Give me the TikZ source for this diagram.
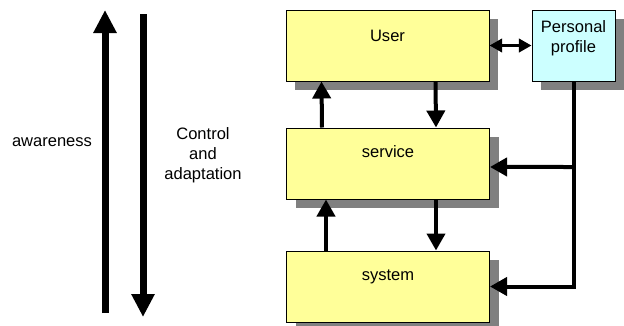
\documentclass[tikz,border=0pt]{standalone}
\usepackage{fontspec}
\setmainfont{Liberation Sans}
\usetikzlibrary{arrows.meta,shadows}
\definecolor{layeryellow}{HTML}{FFFF99}
\definecolor{profilecyan}{HTML}{CCFFFF}

\begin{document}
\begin{tikzpicture}[x=0.75pt,y=-0.75pt,
  font=\fontsize{12.4}{15}\selectfont,
  layer/.style={draw, line width=0.75pt, fill=layeryellow, inner sep=0pt,
    minimum width=152.25pt, text height=22pt, text depth=31.25pt,
    drop shadow={shadow xshift=6.75pt, shadow yshift=-7pt, fill=black!50, opacity=1}},
  flow/.style={line width=3pt, -{Triangle[length=12.75pt,width=13.5pt]}},
  link/.style={line width=2.25pt, {Triangle[length=9.5pt,width=10pt]}-{Triangle[length=9.5pt,width=10pt]}},
  bigflow/.style={line width=5.25pt, -{Triangle[length=17.25pt,width=16.5pt]}}]
\useasboundingbox (0,0) rectangle (624,325);
\node[layer, text height=23.5pt, text depth=29.75pt] (user) at (387.5,45.5) {User};
\node[layer] (service) at (388,163.5) {service};
\node[layer] (system) at (388,286.5) {system};
\node[layer, fill=profilecyan, minimum width=62.25pt, align=center,
  text height=31.5pt, text depth=21.75pt] (profile) at (573.5,45.5) {Personal\\profile};
\draw[flow] ([xshift=27pt]service.north west) -- ([xshift=27pt]user.south west);
\draw[flow] ([xshift=112.5pt]user.south west) -- ([xshift=112.5pt]service.north west);
\draw[flow] ([xshift=30pt]system.north west) -- ([xshift=30pt]service.south west);
\draw[flow] ([xshift=112.5pt]service.south west) -- ([xshift=112.5pt]system.north west);
\draw[flow] (profile.south) |- (system.east);
\draw[flow] (profile.south |- service.east) ++(0,3.5) -- ([yshift=-2.6pt]service.east);
\draw[link] (user.east) -- (profile.west);
\coordinate (aw bottom) at (105,313);
\coordinate (aw top) at (105,10);
\coordinate (ctl top) at (143,14);
\coordinate (ctl bottom) at (143,317);
\draw[bigflow] (aw bottom) -- (aw top);
\draw[bigflow] (ctl top) -- (ctl bottom);
\node (awareness) at (52,142) {awareness};
\node[align=center] (control) at (203,155) {Control\\and\\adaptation};
\end{tikzpicture}
\end{document}
